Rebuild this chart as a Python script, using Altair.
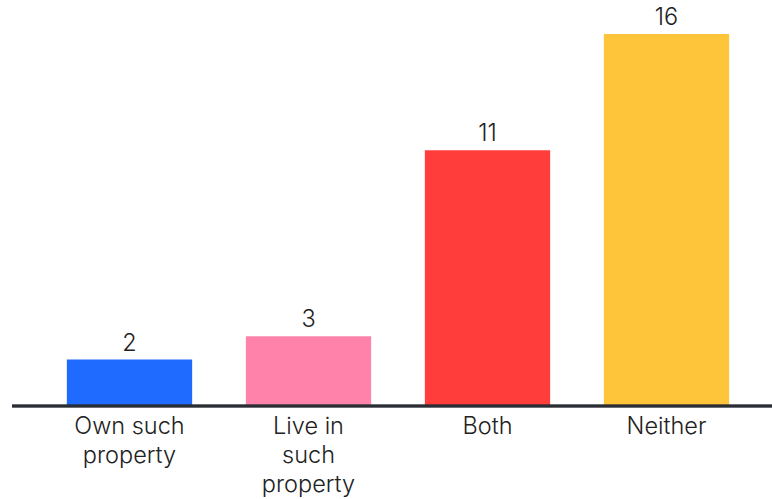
import altair as alt
import pandas as pd

categories = ["Own such property", "Live in such property", "Both", "Neither"]
labels = ["Own such|property", "Live in|such|property", "Both", "Neither"]
values = [2, 3, 11, 16]
colors = ["#1f6bff", "#ff82ab", "#ff3d3b", "#ffc53a"]

df = pd.DataFrame({"cat": categories, "label": labels, "value": values, "color": colors})

label_map = "{" + ",".join(f"'{c}':'{l}'" for c, l in zip(categories, labels)) + "}"

base = alt.Chart(df).encode(
    x=alt.X("cat:N", sort=categories,
            scale=alt.Scale(paddingInner=0.30, paddingOuter=0.15),
            axis=alt.Axis(title=None, domain=False, ticks=False, labelAngle=0,
                          labelFont="Inter", labelFontSize=23.5, labelFontWeight=300,
                          labelColor="#222222",
                          labelPadding=8, labelLineHeight=29, labelBaseline="top",
                          labelExpr="split(" + label_map + "[datum.label], '|')")),
)

bars = base.mark_bar().encode(
    y=alt.Y("value:Q", scale=alt.Scale(domain=[0, 16], nice=False), axis=None),
    color=alt.Color("color:N", scale=None),
)

text = base.mark_text(dy=-9, baseline="alphabetic", font="Inter", fontSize=23.5, fontWeight=300,
                      color="#222222").encode(
    y=alt.Y("value:Q"),
    text=alt.Text("value:Q"),
)

rule = alt.Chart(df).mark_rule(color="#2a2d34", strokeWidth=2.5).encode(
    x=alt.value(-28), x2=alt.value(732), y=alt.value(372)
)

chart = alt.layer(bars, text, rule).properties(
    width=716, height=372,
    padding={"left": 40, "top": 34, "right": 16, "bottom": 93},
    autosize=alt.AutoSizeParams(type="none"),
).configure_view(stroke=None)

chart.save("out.html", embed_options={"renderer": "svg", "actions": False})
